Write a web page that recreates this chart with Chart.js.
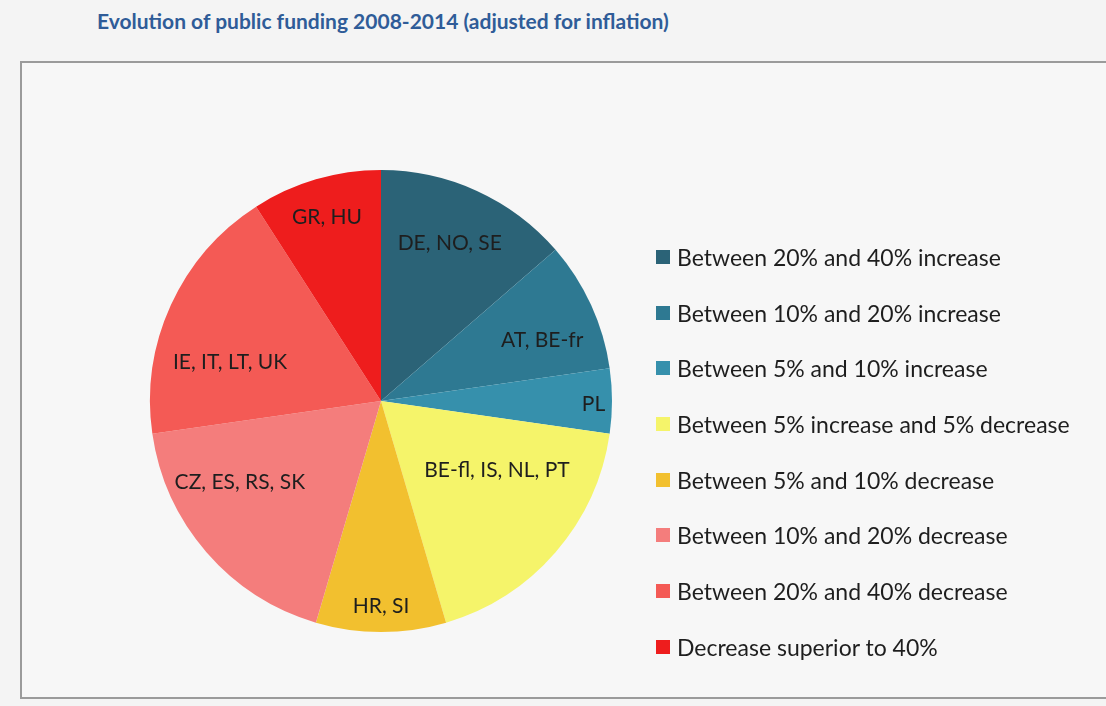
<!DOCTYPE html>
<html>
<head>
<meta charset="utf-8">
<title>Evolution of public funding 2008-2014</title>
<script src="https://cdn.jsdelivr.net/npm/chart.js@4.4.0/dist/chart.umd.min.js"></script>
<style>
  body { margin: 0; background: #f4f4f4; width: 1106px; height: 706px; overflow: hidden; position: relative; font-family: Lato, "Open Sans", sans-serif; }
  #title { position: absolute; left: 97px; top: 8px; font-weight: bold; font-size: 21px; color: #2f5c98; white-space: nowrap; }
  #frame { position: absolute; left: 20px; top: 61px; width: 1100px; height: 634px; border: 2px solid #9b9b9b; background: #f7f7f7; }
  #chart { position: absolute; left: 0; top: 0; }
  #legend { position: absolute; left: 656px; top: 241px; margin: 0; padding: 0; list-style: none; }
  #legend li { height: 55.7px; display: flex; align-items: flex-start; font-size: 23px; color: #1e1e1e; white-space: nowrap; line-height: 32px; }
  #legend span.box { display: inline-block; width: 14px; height: 14px; margin: 9px 7px 0 0; }
</style>
</head>
<body>
<div id="title">Evolution of public funding 2008-2014 (adjusted for inflation)</div>
<div id="frame"></div>
<canvas id="chart" width="1106" height="706"></canvas>
<ul id="legend"></ul>
<script>
// funding change bands, countries in each band, and number of countries
var bands = [
    'Between 20% and 40% increase',
    'Between 10% and 20% increase',
    'Between 5% and 10% increase',
    'Between 5% increase and 5% decrease',
    'Between 5% and 10% decrease',
    'Between 10% and 20% decrease',
    'Between 20% and 40% decrease',
    'Decrease superior to 40%'
];
var countries = ['DE, NO, SE', 'AT, BE-fr', 'PL', 'BE-fl, IS, NL, PT', 'HR, SI', 'CZ, ES, RS, SK', 'IE, IT, LT, UK', 'GR, HU'];
var counts = [3, 2, 1, 4, 2, 4, 4, 2];
var colors = ['#2b6377', '#2e7992', '#3690ac', '#f5f46a', '#f2c02f', '#f47d7c', '#f45a55', '#ee1d1d'];

// label placement: fraction of radius, and turn (degrees) away from the slice middle
var labelRadius = [0.745, 0.745, 0.92, 0.585, 0.89, 0.705, 0.675, 0.83];
var labelTurn = [-1, 4, 1, -10, 0, 11, -10, 0];

var sliceLabels = {
    id: 'sliceLabels',
    afterDatasetsDraw: function(chart) {
        var ctx = chart.ctx;
        var meta = chart.getDatasetMeta(0);
        ctx.save();
        ctx.font = '21px Lato, "Open Sans", sans-serif';
        ctx.fillStyle = '#1e1e1e';
        ctx.textAlign = 'center';
        ctx.textBaseline = 'middle';
        meta.data.forEach(function(arc, i) {
            var mid = (arc.startAngle + arc.endAngle) / 2 + labelTurn[i] * Math.PI / 180;
            var r = arc.outerRadius * labelRadius[i];
            ctx.fillText(countries[i], arc.x + r * Math.cos(mid), arc.y + r * Math.sin(mid));
        });
        ctx.restore();
    }
};

var legend = document.getElementById('legend');
bands.forEach(function(b, i) {
    var li = document.createElement('li');
    li.innerHTML = '<span class="box" style="background:' + colors[i] + '"></span>' + b;
    legend.appendChild(li);
});

var ctx = document.getElementById('chart');
var pieChart = new Chart(ctx, {
    type: 'pie',
    data: {
        labels: bands,
        datasets: [{
            data: counts,
            backgroundColor: colors,
            borderWidth: 0
        }]
    },
    options: {
        responsive: false,
        animation: false,
        layout: { padding: { top: 170, bottom: 74, left: 150, right: 494 } },
        plugins: {
            legend: { display: false },
            tooltip: { enabled: false }
        }
    },
    plugins: [sliceLabels]
});
</script>
</body>
</html>
